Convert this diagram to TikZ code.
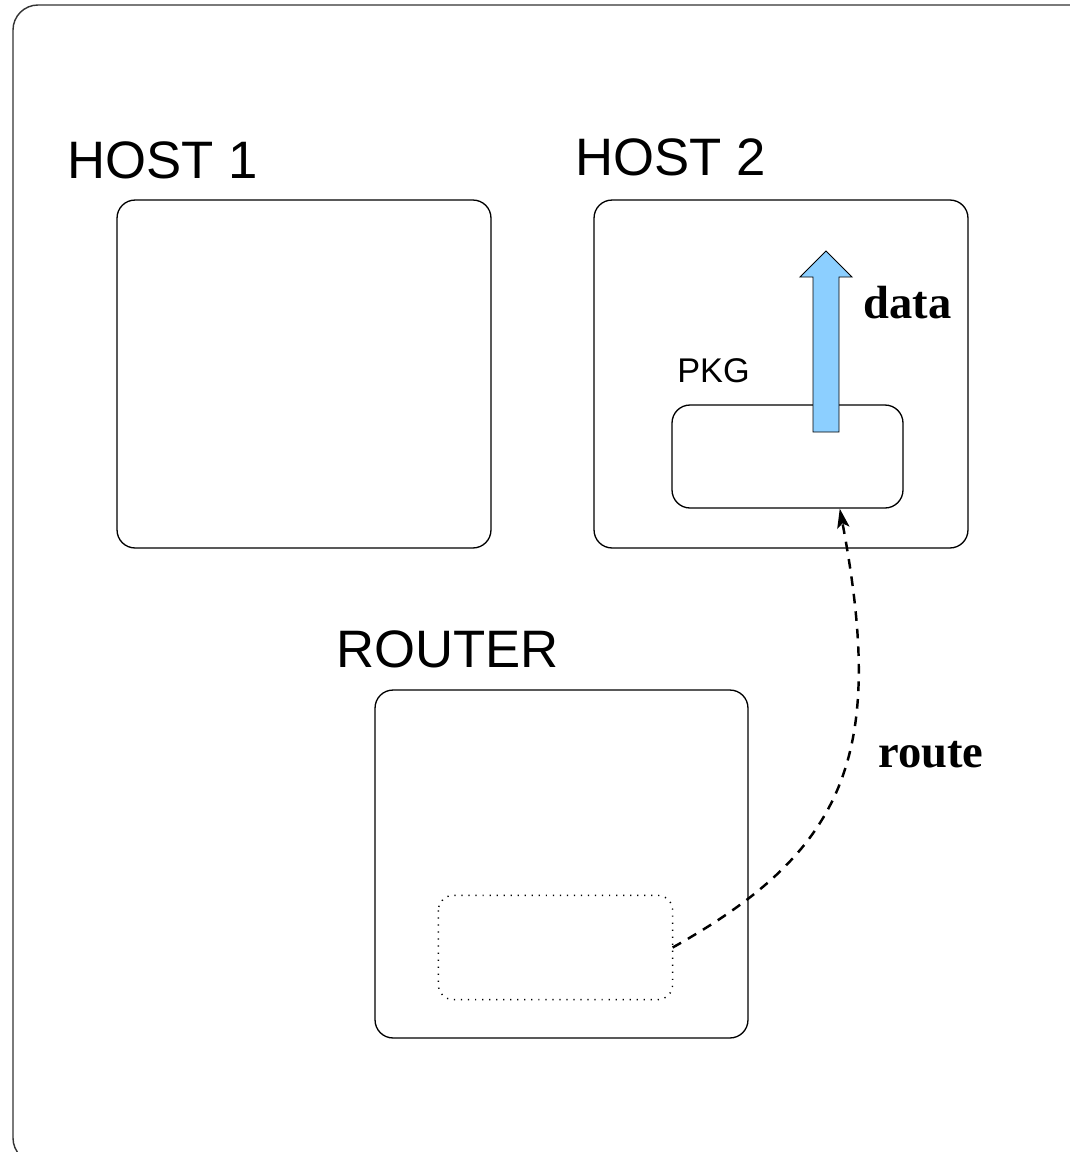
\documentclass[tikz,border=0pt]{standalone}
\usepackage{fontspec}
\setmainfont{Liberation Serif}
\setsansfont{Liberation Sans}
\usetikzlibrary{calc,arrows.meta}

\definecolor{datablue}{HTML}{8CCFFF}

\begin{document}
\begin{tikzpicture}[x=0.02cm, y=-0.02cm,
        box/.style={draw, line width=0.75pt, rounded corners=0.36cm, inner sep=0pt},
        title/.style={anchor=base west, inner sep=0pt, font=\sffamily\fontsize{30}{36}\selectfont},
        small title/.style={anchor=base west, inner sep=0pt, font=\sffamily\fontsize{19.5}{24}\selectfont},
        tag/.style={anchor=base west, inner sep=0pt, font=\bfseries\fontsize{26.5}{32}\selectfont},
        route line/.style={line width=1.4pt, dash pattern=on 5.5pt off 4.5pt, -{Stealth[length=11pt,width=7pt,inset=2.5pt]}}]
            \useasboundingbox (0,0) rectangle (1070,1152);
            \clip (0,0) rectangle (1070,1152);
            \draw[black!80, line width=0.8pt, rounded corners=0.5cm] (13,5) rectangle (1120,1163);

            \node[title] (h1lbl) at (67,179) {HOST 1};
            \node[title] (h2lbl) at (575,175) {HOST 2};
            \node[title] (rtlbl) at (336,667) {ROUTER};

            \node[box, minimum width=7.48cm, minimum height=6.96cm] (host1) at (304,374) {};
            \node[box, minimum width=7.48cm, minimum height=6.96cm] (host2) at (781,374) {};
            \node[box, minimum width=7.46cm, minimum height=6.96cm] (router) at (561.5,864) {};

            \node[small title] (pkglbl) at (677,382) {PKG};
            \node[box, minimum width=4.62cm, minimum height=2.06cm] (pkg) at (787.5,456.5) {};
            \node[box, draw=none, minimum width=4.66cm, minimum height=2.06cm, rounded corners=0.3cm] (rt) at (555.5,947.5) {};
            \draw[line width=0.8pt, dash pattern=on 0.7pt off 3.3pt, rounded corners=0.3cm]
                (rt.north west) rectangle (rt.south east);

            \draw[fill=datablue, line width=0.5pt] (813,432) -- (813,277) -- (800,277) -- (826,251)
                -- (852,277) -- (839,277) -- (839,432) -- cycle;
            \node[tag] (datalbl) at (863,318) {data};

            \coordinate (pkgin) at ($(pkg.south west)!0.725!(pkg.south east)$);
            \draw[route line] (rt.east) .. controls (847,850) and (886,754) .. (pkgin);
            \node[tag] (routelbl) at (878,767) {route};
        \end{tikzpicture}
\end{document}
